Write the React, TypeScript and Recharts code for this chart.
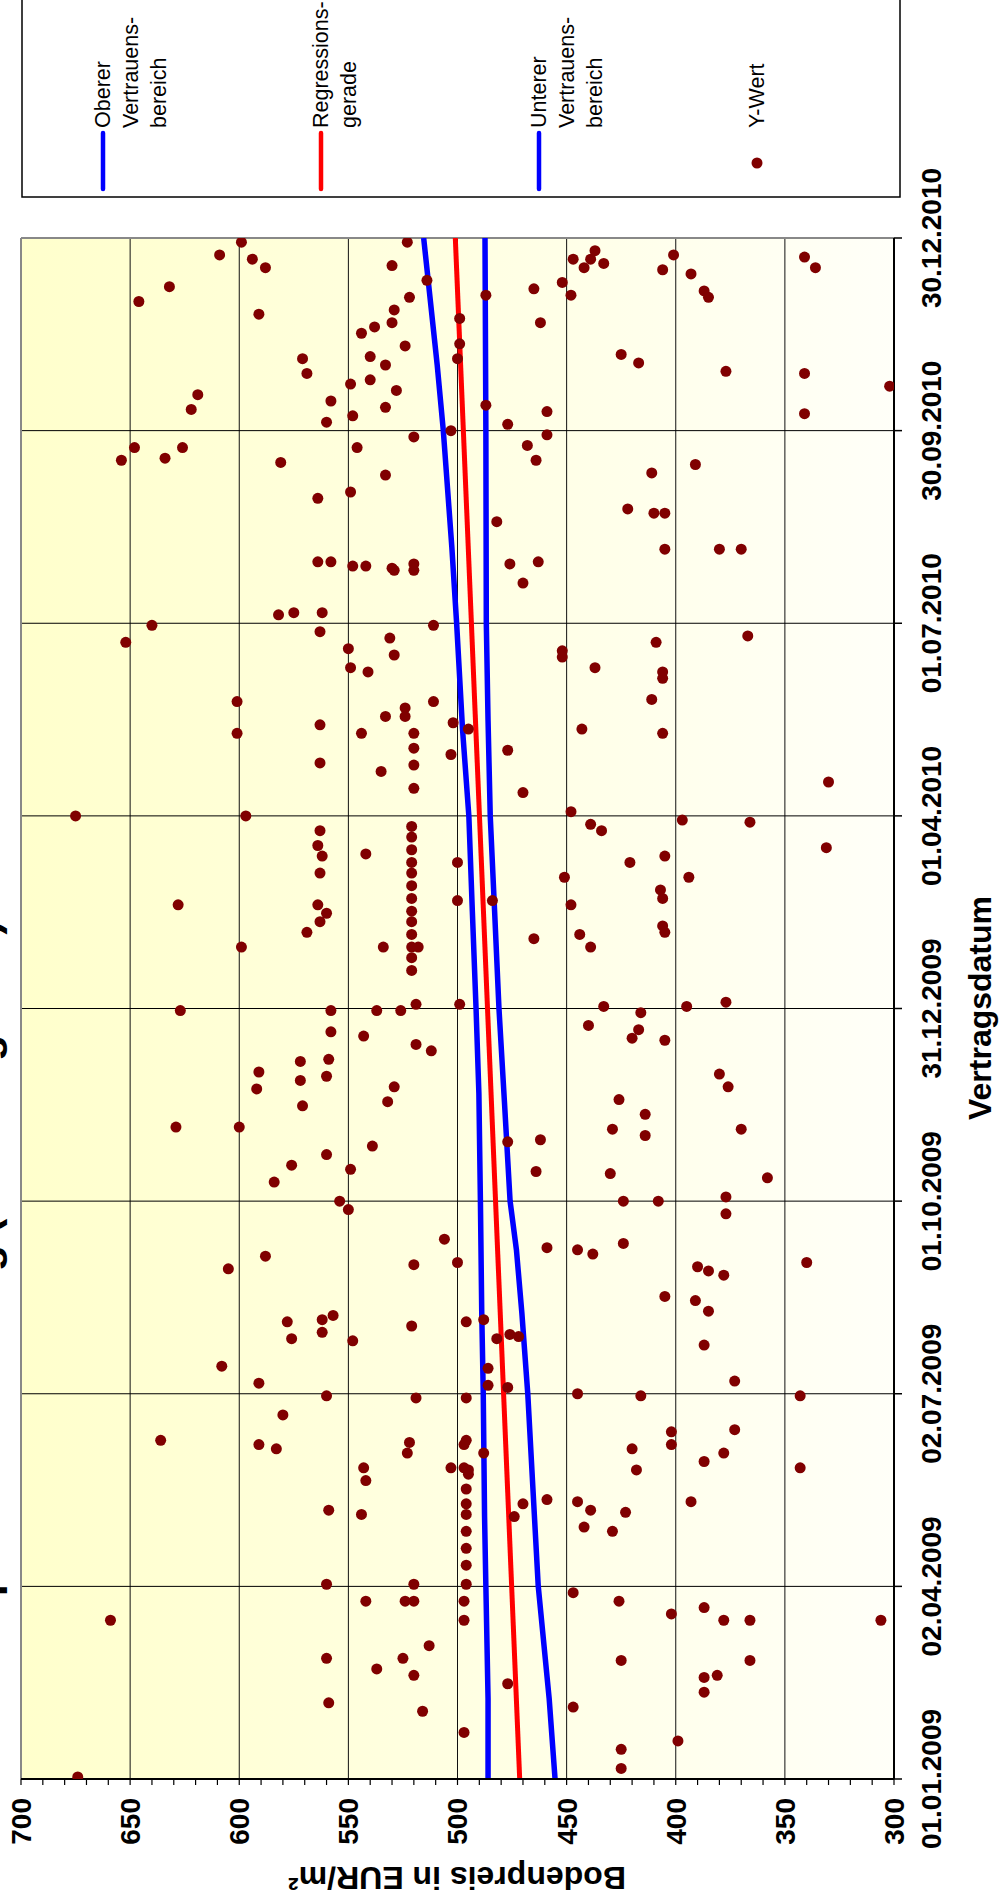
import React from 'react';
import {
  ComposedChart,
  Scatter,
  Line,
  XAxis,
  YAxis,
  CartesianGrid,
  ReferenceLine,
} from 'recharts';

// Vertragsdatum as days after 01.01.2009, Bodenpreis in EUR/m²
const q1Points = [
  [1, 674], [5, 425], [14, 425], [18, 399], [22, 497], [32, 516], [34, 447], [36, 559],
  [41, 387], [45, 477], [48, 387], [49, 381], [49, 520], [52, 537], [56, 425], [56, 366],
  [57, 525], [57, 560], [63, 513], [75, 659], [75, 306], [75, 378], [75, 366], [75, 497],
  [78, 402], [81, 387], [84, 497], [84, 542], [84, 524], [84, 520], [84, 426], [88, 447],
];

const q2Points = [
  [92, 520], [92, 560], [92, 496], [101, 496], [109, 496], [117, 496], [119, 442], [117, 429],
  [124, 474], [125, 496], [125, 544], [126, 423], [127, 559], [127, 439], [130, 496], [130, 470],
  [131, 445], [131, 393], [132, 459], [137, 496], [141, 542], [144, 495], [146, 495], [146, 418],
  [147, 497], [147, 503], [147, 543], [147, 343], [150, 387], [154, 488], [154, 523], [154, 378],
  [156, 420], [156, 583], [158, 497], [158, 402], [158, 591], [159, 522], [160, 496], [160, 636],
  [164, 402], [165, 373], [172, 580], [180, 519], [180, 496], [181, 560], [181, 343],
];

const q3Points = [
  [182, 445], [181, 416], [185, 477], [186, 486], [187, 591], [188, 373], [194, 486], [195, 608],
  [205, 387], [207, 548], [208, 482], [208, 576], [209, 472], [210, 476], [211, 562], [214, 521],
  [216, 496], [216, 578], [217, 488], [217, 562], [219, 557], [221, 385], [226, 391], [228, 405],
  [238, 378], [240, 385], [242, 390], [241, 605], [243, 520], [244, 500], [244, 340], [247, 588],
  [248, 438], [250, 445], [251, 459], [253, 424], [255, 506], [267, 377], [269, 550],
];

const q4Points = [
  [273, 554], [273, 424], [273, 408], [275, 377], [282, 584], [284, 358], [286, 430], [287, 464],
  [288, 549], [290, 576], [295, 560], [299, 539], [301, 477], [302, 462], [304, 414], [307, 429],
  [307, 370], [308, 600], [308, 629], [314, 414], [318, 571], [320, 532], [321, 426], [326, 592],
  [327, 529], [327, 376], [330, 572], [332, 560], [333, 380], [334, 591], [339, 572], [340, 559],
  [344, 512], [347, 519], [349, 405], [350, 420], [351, 543], [353, 558], [354, 417], [356, 440],
  [362, 416], [363, 627], [363, 558], [363, 537], [363, 526], [365, 433], [365, 395], [366, 519],
  [366, 499], [367, 377],
];

const q5Points = [
  [382, 521], [388, 521], [393, 521], [399, 521], [405, 521], [410, 521], [416, 521], [422, 521],
  [428, 521], [433, 521], [439, 521], [445, 521], [450, 521], [448, 563], [441, 564], [436, 562],
  [428, 563], [413, 564], [409, 560], [405, 563], [437, 542], [433, 500], [415, 500], [393, 518],
  [393, 534], [413, 628], [393, 599], [400, 569], [415, 484], [397, 465], [426, 451], [413, 448],
  [399, 444], [393, 439], [433, 421], [436, 405], [420, 407], [416, 406], [403, 406], [400, 405],
  [426, 394], [440, 331], [448, 434], [451, 439], [452, 366], [453, 397], [455, 675], [455, 597],
];

const q6Points = [
  [457, 448], [468, 520], [479, 520], [487, 520], [494, 520], [537, 652], [545, 640], [542, 563],
  [525, 549], [534, 550], [523, 541], [539, 531], [531, 529], [545, 511], [494, 544], [498, 563],
  [480, 563], [502, 533], [502, 524], [506, 524], [509, 511], [496, 495], [499, 502], [484, 503],
  [486, 477], [466, 470], [533, 452], [530, 452], [525, 437], [537, 409], [523, 406], [520, 406],
  [540, 367], [496, 443], [494, 406], [510, 411], [509, 601], [494, 601], [476, 535], [471, 330],
];

const q7Points = [
  [550, 582], [551, 575], [551, 562], [565, 470], [571, 529], [571, 520], [572, 530], [573, 548],
  [573, 542], [574, 520], [574, 476], [575, 564], [575, 558], [575, 463], [581, 405], [581, 380],
  [581, 370], [594, 482], [598, 410], [598, 405], [600, 422], [605, 564], [608, 549], [616, 533],
  [617, 411], [621, 391], [622, 581], [623, 654], [623, 464], [624, 634], [629, 648], [629, 626],
  [629, 546], [630, 468], [634, 520], [635, 459],
];

const q8Points = [
  [637, 503], [640, 477], [641, 560], [644, 548], [645, 341], [646, 459], [647, 622], [648, 533],
  [649, 487], [651, 558], [654, 619], [656, 528], [658, 302], [659, 549], [661, 540], [664, 569],
  [664, 341], [665, 377], [668, 533], [669, 417], [671, 571], [671, 500], [672, 540], [673, 425],
  [677, 524], [678, 499], [683, 544], [686, 538], [688, 530], [688, 462], [690, 499], [692, 591],
  [694, 529], [698, 646], [700, 522], [700, 385], [701, 487], [701, 448], [703, 387], [704, 465],
  [705, 632], [707, 452], [708, 514], [711, 393], [713, 406], [714, 588], [714, 442], [714, 336],
  [715, 530], [716, 433], [718, 594], [718, 447], [718, 439], [719, 341], [720, 609], [720, 401],
  [722, 437], [726, 599], [726, 523],
];

const regressionLine = [[0, 471.5], [728, 501]];

const upperBand = [
  [0, 486], [38, 486], [91, 487], [124, 487.6], [182, 488.2], [221, 488.9], [273, 489.5],
  [324, 490.2], [364, 491.5], [410, 493.2], [455, 494.8], [496, 497.7], [546, 500.4],
  [582, 502.6], [637, 506.5], [668, 509.3], [728, 515.5],
];

const lowerBand = [
  [0, 455.3], [38, 458], [91, 463], [125, 464.8], [182, 467.8], [220, 470.5], [250, 473],
  [273, 475.9], [320, 478.5], [364, 481], [410, 483], [455, 485], [500, 486], [546, 486.8],
  [637, 487], [728, 487.4],
];

const dateTicks = [0, 91, 182, 273, 364, 455, 546, 637, 728];
const dateTickLabels = [
  '01.01.2009', '02.04.2009', '02.07.2009', '01.10.2009', '31.12.2009',
  '01.04.2010', '01.07.2010', '30.09.2010', '30.12.2010',
];
const priceTicks = [300, 350, 400, 450, 500, 550, 600, 650, 700];
const priceMinorTicks = Array.from({ length: 41 }, (_, i) => 300 + i * 10);

const legendItems = [
  { lines: ['Oberer', 'Vertrauens-', 'bereich'], color: '#0000FF', kind: 'line' },
  { lines: ['Regressions-', 'gerade'], color: '#FF0000', kind: 'line' },
  { lines: ['Unterer', 'Vertrauens-', 'bereich'], color: '#0000FF', kind: 'line' },
  { lines: ['Y-Wert'], color: '#800000', kind: 'dot' },
];

const toRows = (pairs: number[][]) => pairs.map(([day, price]) => ({ day, price }));

const points = toRows([
  ...q1Points, ...q2Points, ...q3Points, ...q4Points,
  ...q5Points, ...q6Points, ...q7Points, ...q8Points,
]);

const W = 1903;
const H = 1001;
const FONT = '"Liberation Sans", Arial, Helvetica, sans-serif';
const NARROW = '"Liberation Sans Narrow", "Arial Narrow", "Liberation Sans", Arial, sans-serif';

const Dot = (props: any) => {
  const { cx, cy } = props;
  if (cx == null || cy == null) return null;
  return <circle cx={cx} cy={cy} r={5.5} fill="#800000" />;
};

const Overlay = () => (
  <svg
    width={W}
    height={H}
    style={{ position: 'absolute', left: 0, top: 0, overflow: 'visible', pointerEvents: 'none' }}
    fontFamily={FONT}
  >
    {/* chart title, mostly cut off at the top edge as in the source */}
    <text x={173} y={-2} fontSize={43} fontWeight="bold" fill="#000">
      Bodenpreisentwicklung (Neubaugebiet)
    </text>
    <text x={895} y={991} fontSize={32} fontWeight="bold" textAnchor="middle" fill="#000">
      Vertragsdatum
    </text>
    <text
      transform="translate(36 457) rotate(-90)"
      fontSize={32}
      fontWeight="bold"
      textAnchor="middle"
      fill="#000"
    >
      Bodenpreis in EUR/m²
    </text>

    {/* legend */}
    <rect x={1706} y={22} width={260} height={878} fill="#fff" stroke="#000" strokeWidth={1.5} />
    {legendItems.map((item, i) => {
      const cy = 103 + i * 218;
      return (
        <g key={i}>
          {item.kind === 'line' ? (
            <line x1={1714} x2={1770} y1={cy} y2={cy} stroke={item.color} strokeWidth={4.5} strokeLinecap="round" />
          ) : (
            <circle cx={1740} cy={cy} r={5.5} fill={item.color} />
          )}
          {item.lines.map((t, j) => (
            <text key={j} x={1775} y={cy + 7 + j * 28} fontSize={21.5} fill="#000">
              {t}
            </text>
          ))}
        </g>
      );
    })}
  </svg>
);

export default function App() {
  return (
    <div
      style={{
        position: 'absolute',
        left: 0,
        top: 0,
        width: H,
        height: W,
        overflow: 'hidden',
        background: '#fff',
      }}
    >
      <div
        style={{
          position: 'absolute',
          left: 0,
          top: 0,
          width: W,
          height: H,
          transformOrigin: '0 0',
          transform: `translate(0px, ${W}px) rotate(-90deg)`,
        }}
      >
        <ComposedChart
          width={W}
          height={H}
          margin={{ top: 21, right: 238, bottom: 0, left: 0 }}
          style={{ fontFamily: FONT }}
        >
          <defs>
            <linearGradient id="plotBg" x1="0" y1="0" x2="0" y2="1">
              <stop offset="0%" stopColor="#FFFFCC" />
              <stop offset="100%" stopColor="#FFFFF8" />
            </linearGradient>
          </defs>
          <CartesianGrid fill="url(#plotBg)" horizontal={false} vertical={false} />
          {priceTicks.slice(1, -1).map((v) => (
            <ReferenceLine key={'p' + v} y={v} stroke="#111" strokeWidth={1} />
          ))}
          {dateTicks.slice(1, -1).map((d) => (
            <ReferenceLine key={'d' + d} x={d} stroke="#000" strokeWidth={1} />
          ))}
          <ReferenceLine y={700} stroke="#888" strokeWidth={2} />
          <ReferenceLine x={728} stroke="#888" strokeWidth={2} />
          <XAxis
            type="number"
            dataKey="day"
            domain={[0, 728]}
            ticks={dateTicks}
            interval={0}
            allowDataOverflow
            tickFormatter={(v: number) => dateTickLabels[dateTicks.indexOf(v)] ?? ''}
            height={107}
            tickSize={8}
            tickMargin={19}
            axisLine={{ stroke: '#000', strokeWidth: 2 }}
            tickLine={{ stroke: '#000', strokeWidth: 1.5 }}
            tick={{ fill: '#000', fontSize: 28, fontWeight: 700, fontFamily: NARROW }}
          />
          <YAxis
            type="number"
            dataKey="price"
            domain={[300, 700]}
            ticks={priceMinorTicks}
            interval={0}
            allowDataOverflow
            tickFormatter={(v: number) => (v % 50 === 0 ? String(v) : '')}
            width={124}
            tickSize={6}
            tickMargin={13}
            axisLine={{ stroke: '#000', strokeWidth: 2 }}
            tickLine={{ stroke: '#000', strokeWidth: 1.2 }}
            tick={{ fill: '#000', fontSize: 28, fontWeight: 700, fontFamily: NARROW }}
          />
          <Line
            data={toRows(upperBand)}
            dataKey="price"
            name="Oberer Vertrauensbereich"
            stroke="#0000FF"
            strokeWidth={5.5}
            dot={false}
            activeDot={false}
            isAnimationActive={false}
          />
          <Line
            data={toRows(regressionLine)}
            dataKey="price"
            name="Regressionsgerade"
            stroke="#FF0000"
            strokeWidth={5}
            dot={false}
            activeDot={false}
            isAnimationActive={false}
          />
          <Line
            data={toRows(lowerBand)}
            dataKey="price"
            name="Unterer Vertrauensbereich"
            stroke="#0000FF"
            strokeWidth={5.5}
            dot={false}
            activeDot={false}
            isAnimationActive={false}
          />
          <Scatter
            data={points}
            name="Y-Wert"
            fill="#800000"
            shape={Dot}
            isAnimationActive={false}
          />
        </ComposedChart>
        <Overlay />
      </div>
    </div>
  );
}
